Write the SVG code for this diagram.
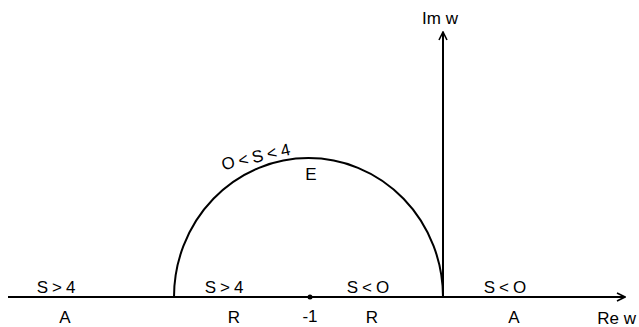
<svg xmlns="http://www.w3.org/2000/svg" width="639" height="327" viewBox="0 0 639 327">
<style>
.ln{fill:none;stroke:#000;stroke-width:2}
text{font-family:"Liberation Sans",Arial,sans-serif;font-size:17px;fill:#000;text-anchor:middle}
.sp{letter-spacing:4px}
</style>
<defs>
<marker id="ar" viewBox="0 0 10 10" refX="9" refY="5" markerWidth="10" markerHeight="10" markerUnits="userSpaceOnUse" orient="auto">
<path d="M1,1 L9,5 L1,9" fill="none" stroke="#000" stroke-width="1.6"/>
</marker>
</defs>
<rect width="639" height="327" fill="#fff"/>
<g id="connectors">
<line class="ln" x1="8" y1="297" x2="625" y2="297" marker-end="url(#ar)"/>
<line class="ln" x1="443" y1="297" x2="443" y2="32" marker-end="url(#ar)"/>
<path id="curve" class="ln" d="M174,297 A134.5,139 0 0 1 443,297"/>
<circle cx="310" cy="297" r="2.5" fill="#000"/>
</g>
<g id="labels">
<text x="58" y="293" class="sp">S&gt;4</text>
<text x="65" y="323">A</text>
<text x="226" y="293" class="sp">S&gt;4</text>
<text x="234" y="323">R</text>
<text x="310" y="322">-1</text>
<text x="370" y="293" class="sp">S&lt;O</text>
<text x="372" y="323">R</text>
<text x="507" y="293" class="sp">S&lt;O</text>
<text x="514" y="323">A</text>
<text x="636" y="324" style="text-anchor:end">Re w</text>
<text x="440" y="24">Im w</text>
<text x="259" y="162" class="sp" transform="rotate(-13 259 162)">O&lt;S&lt;4</text>
<text x="311" y="180">E</text>
</g>
</svg>
